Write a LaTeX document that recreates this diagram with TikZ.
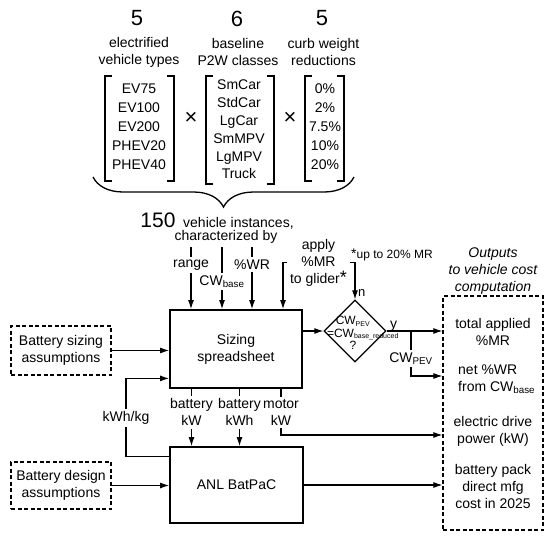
\documentclass[tikz,border=0pt]{standalone}
\usepackage{fontspec}
\setmainfont{Liberation Sans}
\usepackage{tikz}
\usetikzlibrary{arrows.meta,shapes.geometric,decorations.pathreplacing}
\newcommand{\dsub}[1]{\textsubscript{\fontsize{7}{7}\selectfont #1}}
\tikzstyle{lbl}=[font=\fontsize{14}{17}\selectfont,align=center,inner sep=0pt]
\tikzstyle{tag}=[lbl,inner sep=2.5pt]
\tikzstyle{bignum}=[font=\fontsize{22}{24}\selectfont,inner sep=0pt]
\tikzstyle{procbox}=[lbl,draw,line width=1.8pt]
\tikzstyle{dashbox}=[lbl,draw,line width=1.2pt,dash pattern=on 4pt off 2.5pt]
\tikzstyle{decide}=[diamond,draw,line width=1.3pt,inner sep=0pt,minimum width=62pt,minimum height=62pt]
\tikzstyle{bracket}=[line width=1.3pt]
\tikzstyle{tick}=[draw,line width=1.1pt,-]

\begin{document}
\begin{tikzpicture}[x=1pt,y=-1pt]
  \tikzset{edge/.style = {draw,line width=1.1pt,->,>={Latex[length=9pt,width=6pt]}}}
  \useasboundingbox (0,0) rectangle (550,541);
  % the three factors
  \node[bignum] (nev) at (137,18.5) {5};
  \node[bignum] (ncls) at (237,18.5) {6};
  \node[bignum] (ncw) at (322,18.5) {5};
  \node[lbl] (hev) at (139,52) {electrified\\vehicle types};
  \node[lbl] (hcls) at (238,52) {baseline\\P2W classes};
  \node[lbl] (hcw) at (323.5,52) {curb weight\\reductions};
  \node[lbl,font=\fontsize{14}{19}\selectfont] (evlist) at (139,127) {EV75\\EV100\\EV200\\PHEV20\\PHEV40};
  \node[lbl,font=\fontsize{14}{17.8}\selectfont] (clslist) at (239,129.5) {SmCar\\StdCar\\LgCar\\SmMPV\\LgMPV\\Truck};
  \node[lbl,font=\fontsize{14}{19}\selectfont] (cwlist) at (325,127) {0\%\\2\%\\7.5\%\\10\%\\20\%};
  \node[bignum] (times1) at (191,118) {×};
  \node[bignum] (times2) at (290,118) {×};
  \foreach \l/\r/\b in {105/174/181,206/274/184,305/344/181}{
    \draw[bracket] (\l+7,76) -| (\l,\b) -- (\l+7,\b);
    \draw[bracket] (\r-7,76) -| (\r,\b) -- (\r-7,\b);
  }
  \draw[bracket,decorate,decoration={brace,mirror,amplitude=30pt}] (93,177) -- (354,177);
  \node[bignum,font=\fontsize{21}{24}\selectfont,anchor=base] (n150) at (158,227) {150};
  \node[lbl,anchor=base west] (inst) at (183,227) {vehicle instances,};
  \node[lbl,anchor=base] (charby) at (226,240) {characterized by};

  % inputs to the sizing spreadsheet
  \node[tag,anchor=base] (range) at (191,267) {range};
  \node[tag] (cwbase) at (222,281.5) {CW\textsubscript{base}};
  \node[tag,anchor=base] (pwr) at (252,269) {\%WR};
  \node[tag] (glider) at (318.5,262.5) {apply\\\%MR\\to glider{\fontsize{18}{17}\selectfont*}};
  \node[lbl,anchor=base west,font=\fontsize{12}{14}\selectfont] (upto) at (351,258) {{\fontsize{14}{14}\selectfont*}up to 20\% MR};
  \node[lbl,font=\fontsize{14}{17}\selectfont\itshape] (outhead) at (493,271) {Outputs\\to vehicle cost\\computation};

  \node[procbox,minimum width=132pt,minimum height=78pt] (sizing) at (236,349) {Sizing\\spreadsheet};
  \node[procbox,minimum width=133pt,minimum height=76pt] (batpac) at (236.5,485) {ANL BatPaC};
  \node[dashbox,minimum width=100pt,minimum height=49pt] (sizeas) at (61,350.5) {Battery sizing\\assumptions};
  \node[dashbox,minimum width=100pt,minimum height=47pt] (designas) at (61,485.5) {Battery design\\assumptions};
  \node[dashbox,minimum width=100pt,minimum height=234pt] (outbox) at (493,413) {};
  \node[decide] (dia) at (355,331) {};
  \node[lbl,font=\fontsize{12}{12.5}\selectfont] (diaq) at (353,333) {CW\dsub{PEV}\\\hspace*{20pt}=CW\dsub{base\_reduced}\\?};
  \node[lbl,anchor=base west,font=\fontsize{13}{14}\selectfont] (nlab) at (358,296) {n};
  \node[lbl,anchor=base west] (ylab) at (390,328) {y};
  \node[tag] (cwpev) at (411,358.5) {CW\textsubscript{PEV}};

  \node[tag] (batkw) at (191.5,412.4) {battery\\kW};
  \node[tag] (batkwh) at (239.5,412.4) {battery\\kWh};
  \node[tag] (motorkw) at (281,412.4) {motor\\kW};
  \node[tag] (kwhkg) at (126,418) {kWh/kg};

  \node[lbl] (otot) at (493,331.7) {total applied\\\%MR};
  \node[lbl,align=left,anchor=west] (onet) at (458,379.5) {net \%WR\\from CW\textsubscript{base}};
  \node[lbl] (odrive) at (493,431) {electric drive\\power (kW)};
  \node[lbl] (opack) at (493,486.5) {battery pack\\direct mfg\\cost in 2025};

  % connectors
  \draw[tick] (range.north |- 0,247) -- (range.north);
  \draw[edge] (range.south) -- (range.south |- sizing.north);
  \draw[tick] (cwbase.north |- 0,247) -- (cwbase.north);
  \draw[edge] (cwbase.south) -- (cwbase.south |- sizing.north);
  \draw[tick] (pwr.north |- 0,247) -- (pwr.north);
  \draw[edge] (pwr.south) -- (pwr.south |- sizing.north);
  \draw[edge] (glider.west) -| (sizing.north -| 283,0);
  \draw[edge] (glider.east) -| (dia.north);
  \draw[edge] (sizeas.east) -- (sizeas.east -| sizing.west);
  \draw[edge] (designas.east) -- (designas.east -| batpac.west);
  \draw[edge] (sizing.east |- dia.west) -- (dia.west);
  \draw[edge] (dia.east) -- (dia.east -| outbox.west);
  \coordinate (br) at (411,331);
  \draw[tick] (br) -- (cwpev.north);
  \draw[edge] (cwpev.south) |- (outbox.west |- 0,376);
  \draw[edge] (batpac.east) -- (batpac.east -| outbox.west);
  \draw[tick] ([yshift=-10pt]batpac.north west) -| (kwhkg.south);
  \draw[edge] (kwhkg.north) |- ([yshift=10.5pt]sizing.south west);
  \draw[tick] (batkw.north |- sizing.south) -- (batkw.north);
  \draw[edge] (batkw.south) -- (batkw.south |- batpac.north);
  \draw[tick] (batkwh.north |- sizing.south) -- (batkwh.north);
  \draw[edge] (batkwh.south) -- (batkwh.south |- batpac.north);
  \draw[tick] (motorkw.north |- sizing.south) -- (motorkw.north);
  \draw[edge] (motorkw.south) |- (outbox.west |- 0,435);
\end{tikzpicture}
\end{document}
